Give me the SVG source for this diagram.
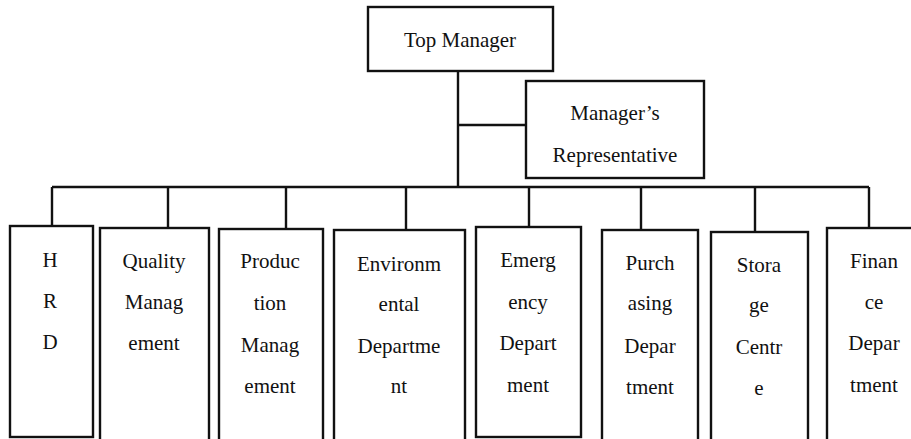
<svg xmlns="http://www.w3.org/2000/svg" width="911" height="439" viewBox="0 0 911 439">
<style>
.box{fill:#fff;stroke:#111;stroke-width:2.4}
.ln{fill:none;stroke:#111;stroke-width:2.4}
text{font-family:"Liberation Serif","Times New Roman",serif;font-size:21px;fill:#111;text-anchor:middle}
</style>
<rect width="911" height="439" fill="#fff"/>
<g id="connectors">
<path class="ln" d="M458,71 V187 M458,125 H526 M52,187 H869 M52,187 V226 M168,187 V228 M286,187 V229 M406,187 V230 M529,187 V227 M641,187 V230 M755,187 V232 M869,187 V228"/>
</g>
<g id="top-manager"><rect class="box" x="368" y="7" width="185" height="64"/><text x="460" y="47">Top Manager</text></g>
<g id="managers-rep"><rect class="box" x="526" y="81" width="178" height="97"/><text x="615" y="120">Manager’s</text><text x="615" y="162">Representative</text></g>
<g id="hrd"><rect class="box" x="10" y="226" width="83" height="211"/><text x="50" y="267">H</text><text x="50" y="308">R</text><text x="50" y="349">D</text></g>
<g id="quality"><rect class="box" x="100" y="228" width="109" height="215"/><text x="154" y="268">Quality</text><text x="154" y="309">Manag</text><text x="154" y="350">ement</text></g>
<g id="production"><rect class="box" x="219" y="229" width="104" height="215"/><text x="270" y="268">Produc</text><text x="270" y="310">tion</text><text x="270" y="352">Manag</text><text x="270" y="393">ement</text></g>
<g id="environmental"><rect class="box" x="334" y="230" width="131" height="215"/><text x="399" y="271">Environm</text><text x="399" y="311">ental</text><text x="399" y="353">Departme</text><text x="399" y="393">nt</text></g>
<g id="emergency"><rect class="box" x="476" y="227" width="105" height="210"/><text x="528" y="267">Emerg</text><text x="528" y="309">ency</text><text x="528" y="350">Depart</text><text x="528" y="392">ment</text></g>
<g id="purchasing"><rect class="box" x="602" y="230" width="96" height="215"/><text x="650" y="270">Purch</text><text x="650" y="310">asing</text><text x="650" y="353">Depar</text><text x="650" y="394">tment</text></g>
<g id="storage"><rect class="box" x="711" y="232" width="97" height="215"/><text x="759" y="272">Stora</text><text x="759" y="312">ge</text><text x="759" y="354">Centr</text><text x="759" y="395">e</text></g>
<g id="finance"><rect class="box" x="827" y="228" width="100" height="215"/><text x="874" y="268">Finan</text><text x="874" y="309">ce</text><text x="874" y="350">Depar</text><text x="874" y="392">tment</text></g>
</svg>
